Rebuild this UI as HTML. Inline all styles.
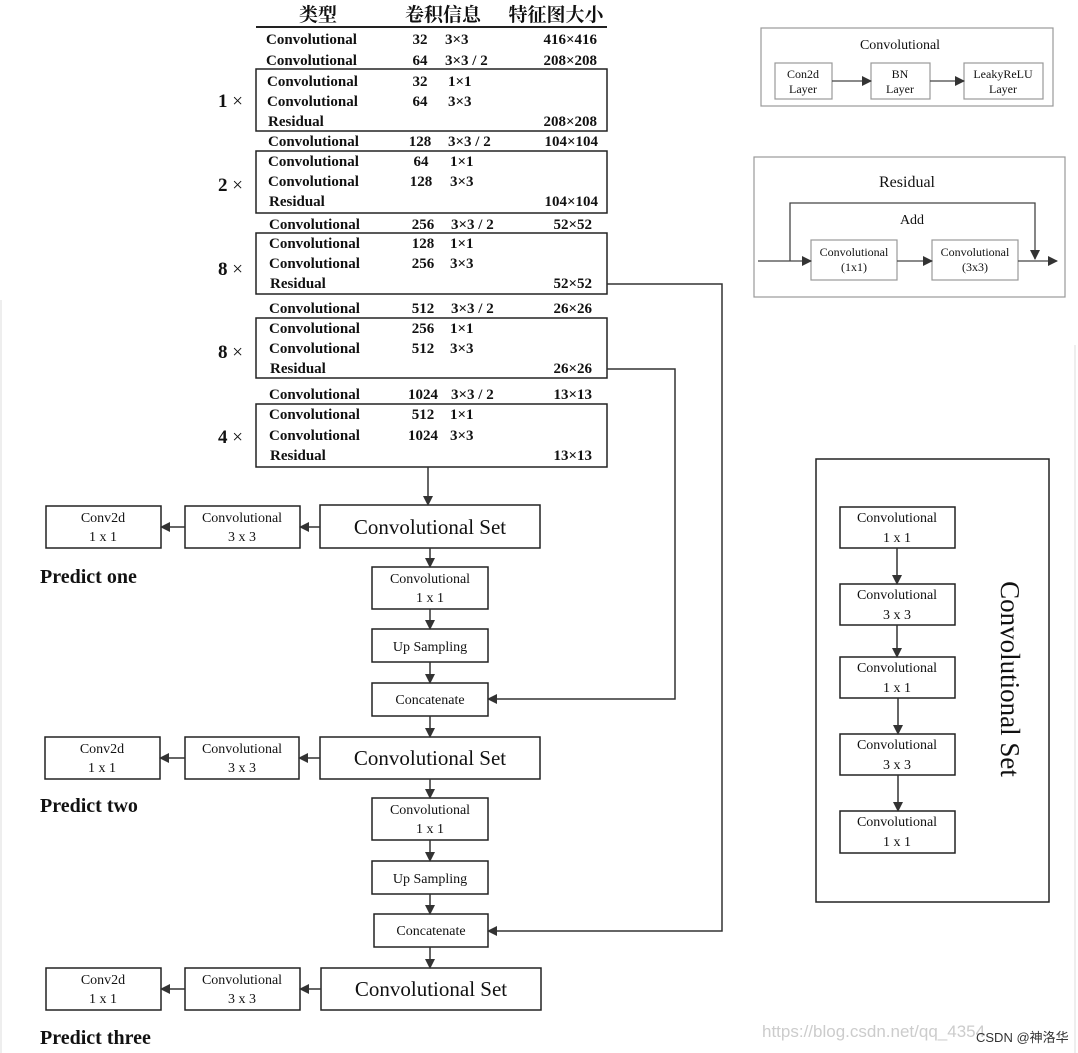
<!DOCTYPE html>
<html><head><meta charset="utf-8"><style>
html,body{margin:0;padding:0;background:#fff;}
svg{display:block;}
.t{font-family:"Liberation Serif","Noto Serif CJK SC",serif;fill:#111;}
.b{font-weight:bold;font-size:15px;}
.n{font-size:14px;}
</style></head><body>
<svg width="1078" height="1053" viewBox="0 0 1078 1053" xmlns="http://www.w3.org/2000/svg">
<defs>
<marker id="a" markerWidth="10" markerHeight="10" refX="9" refY="5" orient="auto" markerUnits="userSpaceOnUse"><path d="M0,0 L10,5 L0,10 z" fill="#333"/></marker>
</defs>
<rect width="1078" height="1053" fill="#fff"/>
<line x1="1" y1="300" x2="1" y2="1053" stroke="#ddd"/>
<line x1="1075" y1="345" x2="1075" y2="1053" stroke="#ddd"/>

<!-- Table header -->
<g class="t" font-weight="bold" font-size="19" font-family="Noto Serif CJK SC, serif">
<text x="318" y="21" text-anchor="middle">类型</text>
<text x="443" y="21" text-anchor="middle">卷积信息</text>
<text x="556" y="21" text-anchor="middle">特征图大小</text>
</g>
<line x1="256" y1="27" x2="607" y2="27" stroke="#222" stroke-width="2"/>

<g fill="none" stroke="#222" stroke-width="1.5">
<rect x="256" y="69" width="351" height="62"/>
<rect x="256" y="151" width="351" height="62"/>
<rect x="256" y="233" width="351" height="61"/>
<rect x="256" y="318" width="351" height="60"/>
<rect x="256" y="404" width="351" height="63"/>
</g>

<g class="t b">
<text x="266" y="44">Convolutional</text><text x="420" y="44" text-anchor="middle">32</text><text x="445" y="44">3×3</text><text x="597" y="44" text-anchor="end">416×416</text>
<text x="266" y="65">Convolutional</text><text x="420" y="65" text-anchor="middle">64</text><text x="445" y="65">3×3 / 2</text><text x="597" y="65" text-anchor="end">208×208</text>
<text x="267" y="86">Convolutional</text><text x="420" y="86" text-anchor="middle">32</text><text x="448" y="86">1×1</text>
<text x="267" y="106">Convolutional</text><text x="420" y="106" text-anchor="middle">64</text><text x="448" y="106">3×3</text>
<text x="268" y="126">Residual</text><text x="597" y="126" text-anchor="end">208×208</text>
<text x="268" y="146">Convolutional</text><text x="420" y="146" text-anchor="middle">128</text><text x="448" y="146">3×3 / 2</text><text x="598" y="146" text-anchor="end">104×104</text>
<text x="268" y="166">Convolutional</text><text x="421" y="166" text-anchor="middle">64</text><text x="450" y="166">1×1</text>
<text x="268" y="186">Convolutional</text><text x="421" y="186" text-anchor="middle">128</text><text x="450" y="186">3×3</text>
<text x="269" y="206">Residual</text><text x="598" y="206" text-anchor="end">104×104</text>
<text x="269" y="229">Convolutional</text><text x="423" y="229" text-anchor="middle">256</text><text x="451" y="229">3×3 / 2</text><text x="592" y="229" text-anchor="end">52×52</text>
<text x="269" y="248">Convolutional</text><text x="423" y="248" text-anchor="middle">128</text><text x="450" y="248">1×1</text>
<text x="269" y="268">Convolutional</text><text x="423" y="268" text-anchor="middle">256</text><text x="450" y="268">3×3</text>
<text x="270" y="288">Residual</text><text x="592" y="288" text-anchor="end">52×52</text>
<text x="269" y="313">Convolutional</text><text x="423" y="313" text-anchor="middle">512</text><text x="451" y="313">3×3 / 2</text><text x="592" y="313" text-anchor="end">26×26</text>
<text x="269" y="333">Convolutional</text><text x="423" y="333" text-anchor="middle">256</text><text x="450" y="333">1×1</text>
<text x="269" y="353">Convolutional</text><text x="423" y="353" text-anchor="middle">512</text><text x="450" y="353">3×3</text>
<text x="270" y="373">Residual</text><text x="592" y="373" text-anchor="end">26×26</text>
<text x="269" y="399">Convolutional</text><text x="423" y="399" text-anchor="middle">1024</text><text x="451" y="399">3×3 / 2</text><text x="592" y="399" text-anchor="end">13×13</text>
<text x="269" y="419">Convolutional</text><text x="423" y="419" text-anchor="middle">512</text><text x="450" y="419">1×1</text>
<text x="269" y="440">Convolutional</text><text x="423" y="440" text-anchor="middle">1024</text><text x="450" y="440">3×3</text>
<text x="270" y="460">Residual</text><text x="592" y="460" text-anchor="end">13×13</text>
</g>
<g class="t" font-size="19">
<text x="218" y="107"><tspan font-weight="bold">1</tspan> ×</text>
<text x="218" y="191"><tspan font-weight="bold">2</tspan> ×</text>
<text x="218" y="275"><tspan font-weight="bold">8</tspan> ×</text>
<text x="218" y="358"><tspan font-weight="bold">8</tspan> ×</text>
<text x="218" y="443"><tspan font-weight="bold">4</tspan> ×</text>
</g>

<!-- Flow -->
<g fill="#fff" stroke="#222" stroke-width="1.5">
<rect x="320" y="505" width="220" height="43"/>
<rect x="185" y="506" width="115" height="42"/>
<rect x="46" y="506" width="115" height="42"/>
<rect x="372" y="567" width="116" height="42"/>
<rect x="372" y="629" width="116" height="33"/>
<rect x="372" y="683" width="116" height="33"/>
<rect x="320" y="737" width="220" height="42"/>
<rect x="185" y="737" width="114" height="42"/>
<rect x="45" y="737" width="115" height="42"/>
<rect x="372" y="798" width="116" height="42"/>
<rect x="372" y="861" width="116" height="33"/>
<rect x="374" y="914" width="114" height="33"/>
<rect x="321" y="968" width="220" height="42"/>
<rect x="185" y="968" width="115" height="42"/>
<rect x="46" y="968" width="115" height="42"/>
</g>
<g stroke="#333" stroke-width="1.5" fill="none" marker-end="url(#a)">
<line x1="428" y1="467" x2="428" y2="505"/>
<line x1="320" y1="527" x2="300" y2="527"/>
<line x1="185" y1="527" x2="161" y2="527"/>
<line x1="430" y1="548" x2="430" y2="567"/>
<line x1="430" y1="609" x2="430" y2="629"/>
<line x1="430" y1="662" x2="430" y2="683"/>
<line x1="430" y1="716" x2="430" y2="737"/>
<line x1="320" y1="758" x2="299" y2="758"/>
<line x1="185" y1="758" x2="160" y2="758"/>
<line x1="430" y1="779" x2="430" y2="798"/>
<line x1="430" y1="840" x2="430" y2="861"/>
<line x1="430" y1="894" x2="430" y2="914"/>
<line x1="430" y1="947" x2="430" y2="968"/>
<line x1="321" y1="989" x2="300" y2="989"/>
<line x1="185" y1="989" x2="161" y2="989"/>
<polyline points="607,284 722,284 722,931 488,931"/>
<polyline points="607,369 675,369 675,699 488,699"/>
</g>
<g class="t" text-anchor="middle">
<text x="430" y="534" font-size="21">Convolutional  Set</text>
<text x="242" y="522" class="n">Convolutional</text><text x="242" y="541" class="n">3 x 3</text>
<text x="103" y="522" class="n">Conv2d</text><text x="103" y="541" class="n">1 x 1</text>
<text x="430" y="583" class="n">Convolutional</text><text x="430" y="602" class="n">1 x 1</text>
<text x="430" y="651" class="n">Up Sampling</text>
<text x="430" y="704" class="n">Concatenate</text>
<text x="430" y="765" font-size="21">Convolutional  Set</text>
<text x="242" y="753" class="n">Convolutional</text><text x="242" y="772" class="n">3 x 3</text>
<text x="102" y="753" class="n">Conv2d</text><text x="102" y="772" class="n">1 x 1</text>
<text x="430" y="814" class="n">Convolutional</text><text x="430" y="833" class="n">1 x 1</text>
<text x="430" y="883" class="n">Up Sampling</text>
<text x="431" y="935" class="n">Concatenate</text>
<text x="431" y="996" font-size="21">Convolutional  Set</text>
<text x="242" y="984" class="n">Convolutional</text><text x="242" y="1003" class="n">3 x 3</text>
<text x="103" y="984" class="n">Conv2d</text><text x="103" y="1003" class="n">1 x 1</text>
</g>
<g class="t" font-weight="bold" font-size="20">
<text x="40" y="583">Predict one</text>
<text x="40" y="812">Predict two</text>
<text x="40" y="1044">Predict three</text>
</g>

<!-- Top right: Convolutional -->
<rect x="761" y="28" width="292" height="78" fill="none" stroke="#999" stroke-width="1.2"/>
<g fill="#fff" stroke="#999" stroke-width="1.2">
<rect x="775" y="63" width="57" height="36"/>
<rect x="871" y="63" width="59" height="36"/>
<rect x="964" y="63" width="79" height="36"/>
<rect x="754" y="157" width="311" height="140" fill="none"/>
<rect x="811" y="240" width="86" height="40"/>
<rect x="932" y="240" width="86" height="40"/>
</g>
<g stroke="#444" stroke-width="1.3" fill="none" marker-end="url(#a)">
<line x1="832" y1="81" x2="871" y2="81"/>
<line x1="930" y1="81" x2="964" y2="81"/>
<line x1="758" y1="261" x2="811" y2="261"/>
<line x1="897" y1="261" x2="932" y2="261"/>
<line x1="1018" y1="261" x2="1057" y2="261"/>
<polyline points="790,261 790,203 1035,203 1035,259"/>
</g>
<g class="t" text-anchor="middle" fill="#222">
<text x="900" y="49" font-size="14">Convolutional</text>
<text x="803" y="78" font-size="12">Con2d</text><text x="803" y="93" font-size="12">Layer</text>
<text x="900" y="78" font-size="12">BN</text><text x="900" y="93" font-size="12">Layer</text>
<text x="1003" y="78" font-size="12">LeakyReLU</text><text x="1003" y="93" font-size="12">Layer</text>
<text x="907" y="187" font-size="16">Residual</text>
<text x="912" y="224" font-size="14">Add</text>
<text x="854" y="256" font-size="12">Convolutional</text><text x="854" y="271" font-size="12">(1x1)</text>
<text x="975" y="256" font-size="12">Convolutional</text><text x="975" y="271" font-size="12">(3x3)</text>
</g>

<!-- Right Convolutional Set panel -->
<rect x="816" y="459" width="233" height="443" fill="none" stroke="#222" stroke-width="1.5"/>
<g fill="#fff" stroke="#222" stroke-width="1.5">
<rect x="840" y="507" width="115" height="41"/>
<rect x="840" y="584" width="115" height="41"/>
<rect x="840" y="657" width="115" height="41"/>
<rect x="840" y="734" width="115" height="41"/>
<rect x="840" y="811" width="115" height="42"/>
</g>
<g stroke="#333" stroke-width="1.5" marker-end="url(#a)">
<line x1="897" y1="548" x2="897" y2="584"/>
<line x1="897" y1="625" x2="897" y2="657"/>
<line x1="898" y1="698" x2="898" y2="734"/>
<line x1="898" y1="775" x2="898" y2="811"/>
</g>
<g class="t" text-anchor="middle">
<text x="897" y="522" class="n">Convolutional</text><text x="897" y="542" class="n">1 x 1</text>
<text x="897" y="599" class="n">Convolutional</text><text x="897" y="619" class="n">3 x 3</text>
<text x="897" y="672" class="n">Convolutional</text><text x="897" y="692" class="n">1 x 1</text>
<text x="897" y="749" class="n">Convolutional</text><text x="897" y="769" class="n">3 x 3</text>
<text x="897" y="826" class="n">Convolutional</text><text x="897" y="846" class="n">1 x 1</text>
<text transform="translate(1001,679) rotate(90)" font-size="27" text-anchor="middle">Convolutional Set</text>
</g>

<!-- Watermark -->
<text x="762" y="1037" font-family="Liberation Sans, sans-serif" font-size="17" fill="#ccc">https://blog.csdn.net/qq_4354</text>
<text x="976" y="1042" font-family="Liberation Sans, Noto Sans CJK SC, sans-serif" font-size="13" fill="#333">CSDN @神洛华</text>
</svg>
</body></html>
